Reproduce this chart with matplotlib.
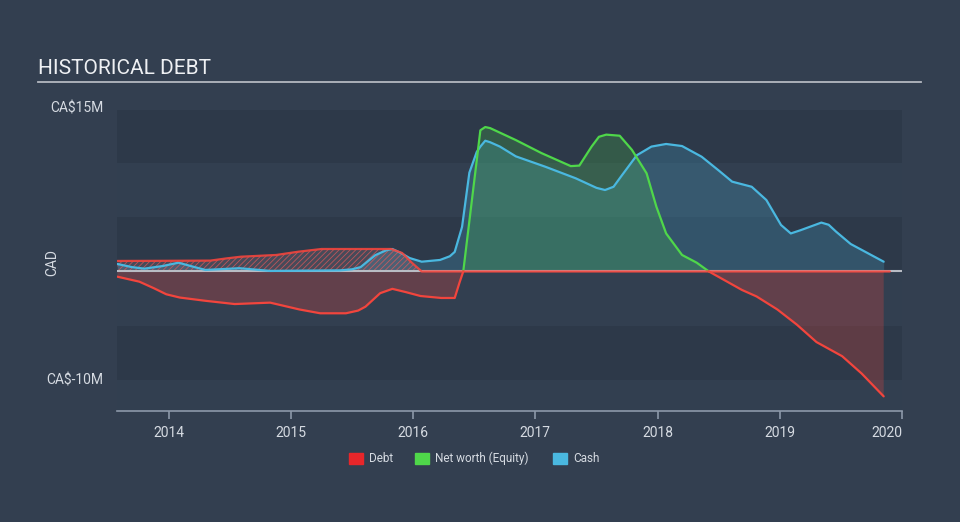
import numpy as np
import matplotlib.pyplot as plt

plt.rcParams['font.family'] = ['Roboto', 'DejaVu Sans']
plt.rcParams['hatch.linewidth'] = 0.6

# -----------------------------
# Data (CA$ millions, decimal years)
# -----------------------------
debt_t = [2013.58, 2013.91, 2014.34, 2014.47, 2014.59, 2014.88, 2015.06, 2015.25, 2015.57,
          2015.82, 2015.91, 2015.99, 2016.07, 2016.5, 2017.0, 2018.0, 2019.0, 2019.9]
debt_v = [0.97, 0.98, 1.0, 1.2, 1.36, 1.52, 1.82, 2.07, 2.07,
          2.07, 1.7, 0.8, 0.0, 0.0, 0.0, 0.0, 0.0, 0.0]

cash_t = [2013.58, 2013.70, 2013.80, 2013.95, 2014.08, 2014.18, 2014.30, 2014.58, 2014.83,
          2015.40, 2015.50, 2015.57, 2015.69, 2015.78, 2015.83, 2015.90, 2015.97, 2016.07,
          2016.22, 2016.30, 2016.34, 2016.40, 2016.46, 2016.52, 2016.55,
          2016.59, 2016.63, 2016.71, 2016.84, 2017.08, 2017.33, 2017.50, 2017.57, 2017.64,
          2017.70, 2017.83, 2017.95, 2018.07, 2018.20, 2018.36, 2018.50, 2018.61, 2018.77,
          2018.89, 2019.01, 2019.09, 2019.17, 2019.34, 2019.40, 2019.46, 2019.58, 2019.85]
cash_v = [0.69, 0.4, 0.26, 0.5, 0.81, 0.5, 0.14, 0.30, 0.05,
          0.10, 0.2, 0.40, 1.5, 1.95, 2.07, 1.7, 1.24, 0.9,
          1.06, 1.4, 1.8, 4.1, 9.1, 11.0, 11.5,
          12.04, 11.9, 11.5, 10.6, 9.65, 8.58, 7.7, 7.5, 7.8,
          8.73, 10.7, 11.5, 11.74, 11.55, 10.57, 9.3, 8.27, 7.8,
          6.58, 4.28, 3.5, 3.8, 4.5, 4.3, 3.67, 2.53, 0.9]

equity_t = [2013.58, 2013.76, 2013.88, 2013.98, 2014.09, 2014.30, 2014.54, 2014.83, 2015.07,
            2015.24, 2015.45, 2015.55, 2015.61, 2015.73, 2015.83, 2015.94, 2016.06, 2016.23,
            2016.34, 2016.38, 2016.41, 2016.48, 2016.55, 2016.59, 2016.63, 2016.84, 2017.05,
            2017.29, 2017.36, 2017.42, 2017.46, 2017.52, 2017.58, 2017.69, 2017.79, 2017.91,
            2017.99, 2018.07, 2018.20, 2018.32, 2018.42, 2018.69, 2018.81, 2018.98, 2019.14,
            2019.30, 2019.51, 2019.67, 2019.85]
equity_v = [-0.48, -0.94, -1.55, -2.1, -2.4, -2.7, -3.0, -2.87, -3.5,
            -3.85, -3.85, -3.6, -3.24, -2.0, -1.6, -1.9, -2.26, -2.44,
            -2.44, -1.0, 0.0, 6.5, 13.0, 13.3, 13.2, 12.1, 10.9,
            9.7, 9.75, 10.8, 11.5, 12.4, 12.6, 12.5, 11.2, 9.04,
            5.97, 3.5, 1.52, 0.81, 0.0, -1.7, -2.3, -3.5, -4.9,
            -6.5, -7.8, -9.4, -11.5]

# -----------------------------
# Colours
# -----------------------------
bg = '#333f50'
band_dark = '#2d3949'
band_light = '#323f50'
red = '#f2453d'
green = '#4fd74a'
blue = '#4ab8e0'
text_col = '#d6dbe2'

fig = plt.figure(figsize=(9.6, 5.22), dpi=100, facecolor=bg)
ax = fig.add_axes([0.1219, 0.2126, 0.8177, 0.5767])
ax.set_facecolor(bg)

x0, x1 = 2013.577, 2020.0
y0, y1 = -12.85, 14.87
ax.set_xlim(x0, x1)
ax.set_ylim(y0, y1)

# alternating bands
edges = [y1, 10, 5, 0, -5, -10, y0]
for i in range(len(edges) - 1):
    c = band_dark if i % 2 == 0 else band_light
    ax.axhspan(edges[i + 1], edges[i], color=c, lw=0, zorder=0)

debt_t = np.array(debt_t); debt_v = np.array(debt_v)
cash_t = np.array(cash_t); cash_v = np.array(cash_v)
equity_t = np.array(equity_t); equity_v = np.array(equity_v)

# cash
ax.fill_between(cash_t, cash_v, 0, color=blue, alpha=0.22, lw=0, zorder=2)

# equity
eq_pos = np.where(equity_v >= 0, equity_v, np.nan)
eq_neg = np.where(equity_v <= 0, equity_v, np.nan)
ax.fill_between(equity_t, np.nan_to_num(eq_pos), 0, where=equity_v >= 0, interpolate=True,
                color=green, alpha=0.21, lw=0, zorder=2)
ax.fill_between(equity_t, np.nan_to_num(eq_neg), 0, where=equity_v <= 0, interpolate=True,
                color=red, alpha=0.25, lw=0, zorder=2)

# debt hatched
ax.fill_between(debt_t, debt_v, 0, facecolor=(0.75, 0.6, 0.65, 0.18),
                edgecolor=(0.9, 0.35, 0.35, 0.75), hatch='//////', lw=0, zorder=3)

ax.axhline(0, color='#b8bcc4', lw=1.5, zorder=3)

kw = dict(lw=1.6, solid_joinstyle='round', solid_capstyle='round')
ax.plot(cash_t, cash_v, color=blue, zorder=5, **kw)
ax.plot(equity_t, eq_pos, color=green, zorder=5, **kw)
ax.plot(equity_t, eq_neg, color=red, zorder=5, **kw)
ax.plot(debt_t, debt_v, color=red, zorder=6, alpha=0.9, **kw)

# axes styling
for s in ['top', 'right', 'left']:
    ax.spines[s].set_visible(False)
ax.spines['bottom'].set_color('#8d99aa')
ax.spines['bottom'].set_linewidth(1.2)
ax.set_xticks([2014, 2015, 2016, 2017, 2018, 2019, 2020])
ax.set_xticklabels(['2014', '2015', '2016', '2017', '2018', '2019', '2020'])
ax.tick_params(axis='x', colors='#8d99aa', length=6, width=1.2, labelcolor=text_col,
               labelsize=10, pad=5)
ax.set_yticks([])
ax.get_xticklabels()[-1].set_horizontalalignment('right')

# y labels
ax.text(-0.017, 15, 'CA$15M', transform=ax.get_yaxis_transform(), ha='right', va='center',
        color=text_col, fontsize=10)
ax.text(-0.017, -10, 'CA$-10M', transform=ax.get_yaxis_transform(), ha='right', va='center',
        color=text_col, fontsize=10)
fig.text(52 / 960, 1 - 262 / 522, 'CAD', rotation=90, ha='center', va='center',
         color=text_col, fontsize=10)

# title
fig.text(38 / 960, 1 - 69 / 522, 'HISTORICAL DEBT', ha='left', va='center',
         color='#eef0f3', fontsize=15)
fig.add_artist(plt.Line2D([38 / 960, 921 / 960], [1 - 82 / 522, 1 - 82 / 522],
                          color='#b4b8c0', lw=1.3))

# legend
items = [('Debt', '#e8262a', 349), ('Net worth (Equity)', green, 415), ('Cash', blue, 553)]
for label, col, px in items:
    fig.patches.append(plt.Rectangle((px / 960, 1 - 464 / 522), 14 / 960, 11 / 522,
                                     transform=fig.transFigure, color=col))
    fig.text((px + 20) / 960, 1 - 458 / 522, label, ha='left', va='center',
             color=text_col, fontsize=8.5)

plt.savefig('out.png', dpi=100, facecolor=bg)
